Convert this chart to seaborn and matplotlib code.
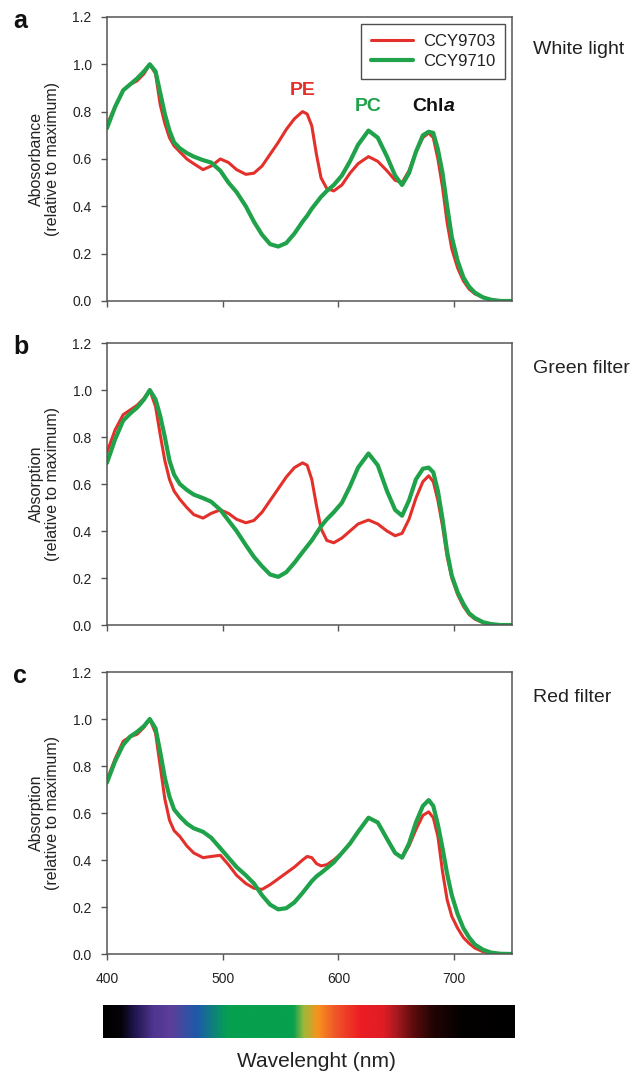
import numpy as np
import pandas as pd
import matplotlib
matplotlib.use("Agg")
import matplotlib.pyplot as plt
from matplotlib.colors import LinearSegmentedColormap
import seaborn as sns

# ==================== data ====================
wavelength = [400, 407, 414, 420, 426, 432, 437, 442, 446, 450, 454, 458, 463, 469, 475,
              483, 490, 498, 505, 512, 520, 527, 534, 541, 548, 555, 562, 569, 573, 577,
              581, 585, 590, 596, 603, 610, 617, 626, 634, 642, 649, 655, 661, 667, 673,
              678, 682, 686, 690, 694, 698, 703, 708, 713, 718, 725, 732, 740, 750]

white_9703 = [0.745, 0.82, 0.89, 0.915, 0.93, 0.96, 1.0, 0.96, 0.83, 0.75, 0.69, 0.655, 0.63, 0.60, 0.58,
              0.555, 0.57, 0.60, 0.585, 0.555, 0.535, 0.54, 0.57, 0.62, 0.67, 0.725, 0.77, 0.80, 0.79, 0.74,
              0.62, 0.52, 0.475, 0.465, 0.49, 0.54, 0.58, 0.61, 0.59, 0.55, 0.51, 0.50, 0.55, 0.63, 0.69,
              0.71, 0.69, 0.60, 0.48, 0.33, 0.22, 0.14, 0.085, 0.05, 0.03, 0.015, 0.005, 0.0, 0.0]
white_9710 = [0.73, 0.82, 0.89, 0.915, 0.94, 0.97, 1.0, 0.97, 0.88, 0.79, 0.72, 0.67, 0.645, 0.625, 0.61,
              0.595, 0.585, 0.55, 0.50, 0.46, 0.40, 0.335, 0.28, 0.24, 0.23, 0.245, 0.285, 0.335, 0.36, 0.39,
              0.415, 0.44, 0.465, 0.49, 0.53, 0.59, 0.66, 0.72, 0.69, 0.61, 0.53, 0.49, 0.54, 0.63, 0.70,
              0.715, 0.71, 0.64, 0.54, 0.40, 0.27, 0.17, 0.10, 0.06, 0.035, 0.015, 0.005, 0.0, 0.0]

green_9703 = [0.735, 0.83, 0.895, 0.915, 0.935, 0.965, 1.0, 0.93, 0.81, 0.70, 0.62, 0.57, 0.535, 0.50, 0.47,
              0.455, 0.475, 0.49, 0.475, 0.45, 0.435, 0.445, 0.48, 0.53, 0.58, 0.63, 0.67, 0.69, 0.68, 0.62,
              0.51, 0.41, 0.36, 0.35, 0.37, 0.40, 0.43, 0.447, 0.43, 0.40, 0.38, 0.39, 0.45, 0.54, 0.61,
              0.635, 0.61, 0.53, 0.42, 0.29, 0.20, 0.13, 0.08, 0.045, 0.025, 0.01, 0.003, 0.0, 0.0]
green_9710 = [0.69, 0.79, 0.87, 0.90, 0.925, 0.96, 1.0, 0.96, 0.89, 0.80, 0.70, 0.64, 0.60, 0.575, 0.555,
              0.54, 0.525, 0.49, 0.445, 0.40, 0.34, 0.29, 0.25, 0.215, 0.205, 0.225, 0.265, 0.31, 0.335, 0.36,
              0.39, 0.42, 0.45, 0.48, 0.52, 0.59, 0.67, 0.73, 0.68, 0.57, 0.49, 0.465, 0.53, 0.62, 0.665,
              0.67, 0.65, 0.57, 0.45, 0.31, 0.21, 0.14, 0.09, 0.05, 0.03, 0.012, 0.004, 0.0, 0.0]

red_9703 = [0.74, 0.83, 0.905, 0.925, 0.935, 0.965, 1.0, 0.94, 0.80, 0.66, 0.57, 0.525, 0.50, 0.46, 0.43,
            0.41, 0.415, 0.42, 0.38, 0.335, 0.30, 0.28, 0.275, 0.295, 0.32, 0.345, 0.37, 0.40, 0.415, 0.41,
            0.385, 0.375, 0.38, 0.40, 0.43, 0.47, 0.52, 0.58, 0.56, 0.49, 0.43, 0.41, 0.46, 0.53, 0.59,
            0.605, 0.58, 0.50, 0.35, 0.23, 0.16, 0.11, 0.07, 0.045, 0.025, 0.01, 0.003, 0.0, 0.0]
red_9710 = [0.73, 0.82, 0.89, 0.925, 0.945, 0.97, 1.0, 0.96, 0.86, 0.75, 0.67, 0.615, 0.585, 0.555, 0.535,
            0.52, 0.495, 0.45, 0.41, 0.37, 0.335, 0.30, 0.25, 0.21, 0.19, 0.195, 0.22, 0.26, 0.285, 0.31,
            0.33, 0.345, 0.365, 0.39, 0.43, 0.47, 0.52, 0.58, 0.56, 0.49, 0.43, 0.41, 0.47, 0.56, 0.63,
            0.655, 0.63, 0.55, 0.45, 0.34, 0.25, 0.17, 0.11, 0.07, 0.04, 0.018, 0.006, 0.001, 0.0]

strains = ['CCY9703', 'CCY9710']
panels = [('a', 'White light', 'Abosorbance\n(relative to maximum)', white_9703, white_9710),
          ('b', 'Green filter', 'Absorption\n(relative to maximum)', green_9703, green_9710),
          ('c', 'Red filter', 'Absorption\n(relative to maximum)', red_9703, red_9710)]

x_ticks = [400, 500, 600, 700]
y_ticks = [0.0, 0.2, 0.4, 0.6, 0.8, 1.0, 1.2]

# spectrum bar colour stops (nm, colour)
bar_nm = [397, 412, 422, 440, 455, 478, 495, 504, 561, 570, 582, 596, 619, 639, 651, 665, 682, 706, 752]
bar_col = ['#000000', '#050308', '#1b1245', '#4f3590', '#5b3f9a', '#1d5aa8', '#0b8a72', '#06a04f',
           '#06a04f', '#9db93a', '#f7941d', '#f05a28', '#ec1c24', '#e01d24', '#a3191e', '#5c0b0c',
           '#210404', '#040101', '#000000']

# ==================== style ====================
sns.set_style('white')
plt.rcParams['font.family'] = ['Liberation Sans', 'DejaVu Sans']
plt.rcParams['axes.unicode_minus'] = False

palette = {'CCY9703': '#e3302b', 'CCY9710': '#1fa24a'}
widths = [2.2, 3.0]
spine_col = '#555555'
txt_col = '#222222'

fig = plt.figure(figsize=(6.44, 10.73), dpi=100)
ax_pos = [(0.1661, 0.7195, 0.6289, 0.2647),
          (0.1661, 0.4175, 0.6289, 0.2628),
          (0.1661, 0.1109, 0.6289, 0.2628)]
cond_y = [0.884, 0.908, 0.911]

for i, (letter, cond, ylab, s1, s2) in enumerate(panels):
    ax = fig.add_axes(ax_pos[i])
    df = pd.DataFrame({'Wavelength': wavelength * 2,
                       'Abs': s1 + s2,
                       'Strain': [strains[0]] * len(wavelength) + [strains[1]] * len(wavelength)})
    sns.lineplot(data=df, x='Wavelength', y='Abs', hue='Strain', palette=palette,
                 ax=ax, legend=(i == 0), sort=False)
    for line, lw in zip(ax.lines, widths):
        line.set_linewidth(lw)
        line.set_solid_joinstyle('round')
        line.set_solid_capstyle('round')

    ax.set_xlim(400, 750)
    ax.set_ylim(0, 1.2)
    ax.set_xticks(x_ticks)
    ax.set_yticks(y_ticks)
    ax.set_yticklabels([f'{v:.1f}' for v in y_ticks], fontsize=10, color=txt_col)
    if i < 2:
        ax.set_xticklabels([])
    else:
        ax.set_xticklabels([str(v) for v in x_ticks], fontsize=10, color=txt_col)
    ax.set_xlabel('')
    ax.set_ylabel(ylab, fontsize=11.5, color=txt_col, labelpad=9, linespacing=1.1)
    ax.tick_params(axis='both', direction='out', length=4, width=1, color=spine_col,
                   bottom=True, left=True)
    ax.tick_params(axis='y', pad=7)
    ax.tick_params(axis='x', pad=9)
    for sp in ax.spines.values():
        sp.set_color(spine_col)
        sp.set_linewidth(1.1)

    ax.text(-0.232, 0.985, letter, transform=ax.transAxes, fontsize=18, fontweight='bold',
            ha='left', va='center', color='#111111')
    ax.text(1.052, cond_y[i], cond, transform=ax.transAxes, fontsize=14, ha='left', va='center',
            color=txt_col)

    if i == 0:
        leg = ax.legend(loc='upper right', bbox_to_anchor=(1.0, 1.0), fontsize=12,
                        frameon=True, fancybox=False, handlelength=2.5, handletextpad=0.6,
                        borderpad=0.6, labelspacing=0.32, borderaxespad=0.42, title=None)
        leg.get_frame().set_edgecolor('#222222')
        leg.get_frame().set_linewidth(1.0)
        for t in leg.get_texts():
            t.set_color(txt_col)
        for h, lw in zip(leg.get_lines(), widths):
            h.set_linewidth(lw)
        ax.text(569, 0.89, 'PE', color=palette['CCY9703'], fontsize=14, fontweight='bold',
                ha='center', va='center')
        ax.text(626, 0.82, 'PC', color=palette['CCY9710'], fontsize=14, fontweight='bold',
                ha='center', va='center')
        ax.text(691, 0.82, 'Chl', color='#111111', fontsize=14, fontweight='bold',
                ha='right', va='center')
        ax.text(691, 0.82, 'a', color='#111111', fontsize=14, fontweight='bold',
                fontstyle='italic', ha='left', va='center')

# ==================== spectrum bar ====================
cmap = LinearSegmentedColormap.from_list(
    'spec', [((n - bar_nm[0]) / (bar_nm[-1] - bar_nm[0]), c) for n, c in zip(bar_nm, bar_col)])
bar_ax = fig.add_axes((0.1599, 0.0326, 0.6382, 0.0308))
grad = np.linspace(0, 1, 512).reshape(1, -1)
bar_ax.imshow(grad, aspect='auto', cmap=cmap, extent=(bar_nm[0], bar_nm[-1], 0, 1))
bar_ax.set_xticks([])
bar_ax.set_yticks([])
for sp in bar_ax.spines.values():
    sp.set_visible(False)

fig.text(0.492, 0.0105, 'Wavelenght (nm)', fontsize=15, ha='center', va='center', color=txt_col)

fig.savefig('out.png', dpi=100)
